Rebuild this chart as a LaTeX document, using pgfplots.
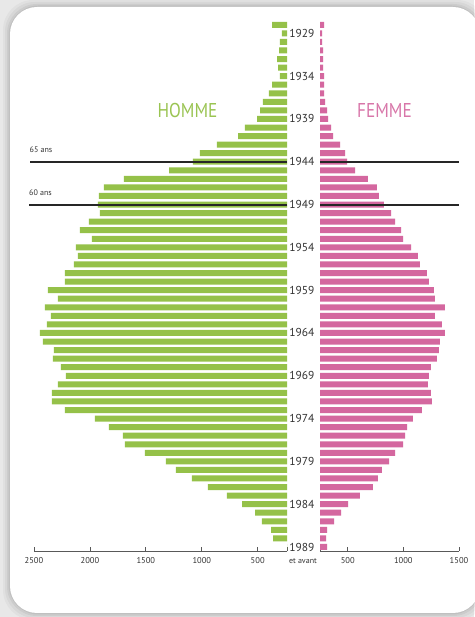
\documentclass[border=0pt]{standalone}
\usepackage{pgfplots}
\pgfplotsset{compat=1.18}
\usepackage{pgfplotstable}
\usepackage{fontspec}
\setmainfont{PT Sans}
\definecolor{hgreen}{HTML}{95C149}
\definecolor{fpink}{HTML}{D4679F}
\definecolor{txt}{HTML}{333333}
\pgfplotstableread{
year men
1928 372
1929 283
1930 301
1931 309
1932 327
1933 318
1934 301
1935 372
1936 399
1937 453
1938 479
1939 506
1940 614
1941 676
1942 864
1943 1016
1944 1079
1945 1293
1946 1696
1947 1875
1948 1919
1949 1928
1950 1910
1951 2009
1952 2089
1953 1982
1954 2125
1955 2107
1956 2143
1957 2223
1958 2223
1959 2376
1960 2286
1961 2402
1962 2349
1963 2385
1964 2447
1965 2420
1966 2322
1967 2331
1968 2259
1969 2215
1970 2286
1971 2340
1972 2340
1973 2223
1974 1955
1975 1830
1976 1705
1977 1687
1978 1508
1979 1320
1980 1231
1981 1088
1982 945
1983 775
1984 640
1985 524
1986 462
1987 381
1988 363
1989 0
}\men
\pgfplotstableread{
year women
1928 287
1929 269
1930 269
1931 278
1932 278
1933 278
1934 287
1935 287
1936 287
1937 296
1938 314
1939 323
1940 350
1941 368
1942 431
1943 476
1944 494
1945 566
1946 682
1947 763
1948 781
1949 826
1950 889
1951 925
1952 979
1953 997
1954 1069
1955 1131
1956 1149
1957 1212
1958 1230
1959 1275
1960 1284
1961 1374
1962 1284
1963 1347
1964 1374
1965 1329
1966 1320
1967 1302
1968 1248
1969 1230
1970 1221
1971 1248
1972 1257
1973 1167
1974 1086
1975 1033
1976 1015
1977 997
1978 925
1979 871
1980 808
1981 772
1982 727
1983 610
1984 503
1985 440
1986 377
1987 314
1988 305
1989 314
}\women
\pgfplotsset{
  pyr/.style={
    scale only axis, height=530.5pt, xbar, bar width=6pt,
    y dir=reverse, ymin=1927.5, ymax=1989.47,
    axis x line=bottom, x axis line style={-, draw=black!65, line width=0.8pt},
    xtick align=inside, major tick length=4pt,
    xtick style={draw=black!65, line width=0.8pt},
    xticklabel style={font=\fontsize{8.5}{10}\selectfont, text=txt, yshift=-3pt},
    /pgf/number format/assume math mode=true,
    /pgf/number format/1000 sep={},
  }
}
\begin{document}
\begin{tikzpicture}[x=1pt,y=1pt]
\useasboundingbox (0,0) rectangle (474,617);
\fill[black!9] (0,0) rectangle (474,617);
\foreach \i/\o in {7/0.03,5/0.04,3/0.05,1.5/0.06} {
  \fill[black,opacity=\o,rounded corners=30] (10-\i,4-\i) rectangle (480+\i,610+\i);}
\fill[white, rounded corners=27] (10,4) rectangle (480,610);

\begin{axis}[pyr, at={(34pt,66pt)}, anchor=south west, width=253pt,
  x dir=reverse, xmin=238, xmax=2500,
  axis y line=none, ytick=\empty,
  xtick={500,1000,1500,2000,2500}, extra x ticks={238}, extra x tick labels={}]
\addplot[fill=hgreen, draw=none] table[x=men, y=year]{\men};
\coordinate (L44) at (axis cs:238,1944);
\coordinate (L49) at (axis cs:238,1949);
\end{axis}

\begin{axis}[pyr, at={(320pt,66pt)}, anchor=south west, width=139pt,
  xmin=251, xmax=1500,
  axis y line=left, y axis line style={draw=none}, ytick style={draw=none},
  ytick={1929,1934,...,1989},
  yticklabel style={font=\fontsize{11.5}{13}\selectfont, text=txt},
  xtick={500,1000,1500}, extra x ticks={251}, extra x tick labels={}]
\addplot[fill=fpink, draw=none] table[x=women, y=year]{\women};
\coordinate (R44) at (axis cs:251,1944);
\coordinate (R49) at (axis cs:251,1949);
\end{axis}

\draw[line width=2pt, black!85] (L44) -- ++(-257,0);
\draw[line width=2pt, black!85] (L49) -- ++(-258,0);
\draw[line width=2pt, black!85] (R44) -- ++(139,0);
\draw[line width=2pt, black!85] (R49) -- ++(139,0);

\node[anchor=west, inner sep=0, font=\fontsize{8}{9}\selectfont, text=txt] at (29.5,467) {65 ans};
\node[anchor=west, inner sep=0, font=\fontsize{8}{9}\selectfont, text=txt] at (29,424) {60 ans};
\node[font=\fontsize{8}{9}\selectfont, text=txt] at (303,56) {et avant};
\node[text=hgreen!95!white, font=\fontsize{20}{22}\selectfont] at (187.5,506) {\scalebox{0.86}[1]{HOMME}};
\node[text=fpink!90!white, font=\fontsize{20}{22}\selectfont] at (384.5,506) {\scalebox{0.86}[1]{FEMME}};
\end{tikzpicture}
\end{document}
